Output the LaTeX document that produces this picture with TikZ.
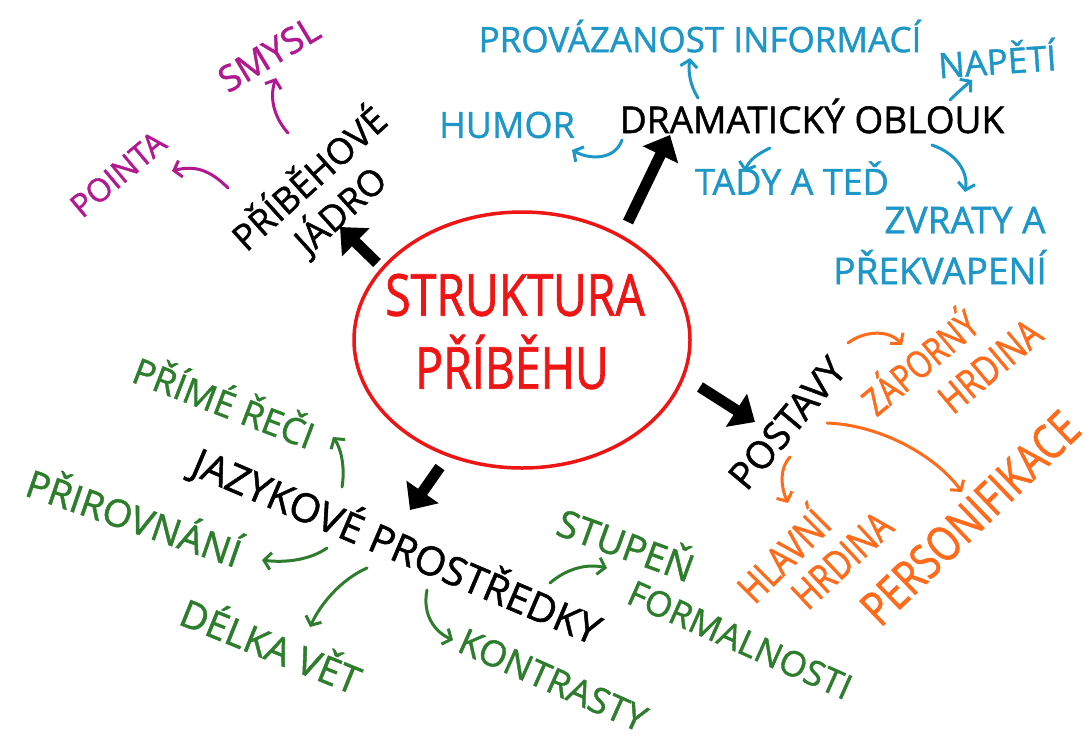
\documentclass[tikz,border=0pt]{standalone}
\usepackage{fontspec}
\newfontfamily\hand[FakeBold=1.2]{Open Sans}
\newfontfamily\handc[FakeStretch=0.8,FakeBold=1.2]{Open Sans}
\usetikzlibrary{arrows.meta,shapes.geometric}
\definecolor{mag}{HTML}{B2188F}
\definecolor{blu}{HTML}{1D96C8}
\definecolor{grn}{HTML}{2D7D2D}
\definecolor{org}{HTML}{FF6B1A}
\definecolor{rd}{HTML}{F01515}
\begin{document}
\begin{tikzpicture}[x=1pt,y=-1pt,
  txt/.style={font={\hand\fontsize{#1}{#1}\selectfont}, inner sep=0pt},
  txc/.style={font={\handc\fontsize{#1}{#1}\selectfont}, inner sep=0pt},
  arr/.style={line width=3pt, line cap=round, -{Straight Barb[length=7pt,width=17pt]}},
  bigarr/.style={line width=11pt, -{Triangle[length=22pt,width=38pt]}}
]
\useasboundingbox (0,0) rectangle (1089,740);
% centre
\node[draw=rd, line width=3.5pt, ellipse, minimum width=336pt, minimum height=256pt] (c) at (522,340) {};
\node[txc=58, text=rd] (s1) at (515,295) {STRUKTURA};
\node[txc=58, text=rd] (s2) at (512,362) {PŘÍBĚHU};

% příběhové jádro
\node[txt=36, rotate=42] (pj1) at (307,176) {PŘÍBĚHOVÉ};
\node[txt=36, rotate=42] (pj2) at (340,210) {JÁDRO};
\node[txt=36, rotate=31, text=mag] (smysl) at (269,54) {SMYSL};
\node[txt=32, rotate=40, text=mag] (pointa) at (118,174) {POINTA};

% dramatický oblouk
\node[txt=37] (do) at (812,116) {DRAMATICKÝ OBLOUK};
\node[txt=35, text=blu] (prov) at (700,36) {PROVÁZANOST INFORMACÍ};
\node[txt=35, text=blu, rotate=4] (nap) at (997,58) {NAPĚTÍ};
\node[txt=36, text=blu] (hum) at (507,125) {HUMOR};
\node[txt=36, text=blu] (tady) at (792,178) {TADY A TEĎ};
\node[txt=37, text=blu] (zv1) at (965,220) {ZVRATY A};
\node[txt=37, text=blu] (zv2) at (940,267) {PŘEKVAPENÍ};

% postavy
\node[txt=38, rotate=50] (post) at (787,423) {POSTAVY};
\node[txc=38, rotate=40, text=org] (zap1) at (918,360) {ZÁPORNÝ};
\node[txc=40, rotate=40, text=org] (zap2) at (990,366) {HRDINA};
\node[txc=40, rotate=45, text=org] (hl1) at (781,553) {HLAVNÍ};
\node[txc=40, rotate=43, text=org] (hl2) at (842,560) {HRDINA};
\node[txc=48, rotate=44, text=org] (pers) at (970,518) {PERSONIFIKACE};

% jazykové prostředky
\node[txt=40, rotate=-23] (jp) at (397,546) {JAZYKOVÉ PROSTŘEDKY};
\node[txt=36, rotate=-21, text=grn] (prime) at (225,400) {PŘÍMÉ ŘEČI};
\node[txt=38, rotate=-19, text=grn] (prir) at (135,515) {PŘIROVNÁNÍ};
\node[txt=38, rotate=-22, text=grn] (delka) at (272,643) {DÉLKA VĚT};
\node[txt=36, rotate=-24, text=grn] (kon) at (553,680) {KONTRASTY};
\node[txt=38, rotate=-20, text=grn] (stu1) at (627,542) {STUPEŇ};
\node[txt=35, rotate=-24, text=grn] (stu2) at (740,640) {FORMALNOSTI};

% big arrows
\coordinate (ba1) at (377,263); \coordinate (ba1t) at (340,227);
\coordinate (ba2) at (628,222); \coordinate (ba2t) at (670,135);
\coordinate (ba3) at (700,387); \coordinate (ba3t) at (755,422);
\coordinate (ba4) at (440,467); \coordinate (ba4t) at (410,510);
\draw[bigarr] (ba1) -- (ba1t);
\draw[bigarr] (ba2) -- (ba2t);
\draw[bigarr] (ba3) -- (ba3t);
\draw[bigarr] (ba4) -- (ba4t);

% thin arrows: start / tip coordinates
\coordinate (m1s) at (288,133); \coordinate (m1t) at (276,78);
\coordinate (m2s) at (228,188); \coordinate (m2t) at (172,171);
\coordinate (b1s) at (622,140); \coordinate (b1t) at (572,150);
\coordinate (b2s) at (698,98);  \coordinate (b2t) at (690,58);
\coordinate (b3s) at (950,100); \coordinate (b3t) at (972,80);
\coordinate (b4s) at (770,148); \coordinate (b4t) at (745,172);
\coordinate (b5s) at (932,145); \coordinate (b5t) at (965,192);
\coordinate (o1s) at (848,343); \coordinate (o1t) at (902,345);
\coordinate (o2s) at (790,457); \coordinate (o2t) at (788,503);
\coordinate (o3s) at (827,423); \coordinate (o3t) at (962,492);
\coordinate (g1s) at (342,487); \coordinate (g1t) at (333,437);
\coordinate (g2s) at (327,548); \coordinate (g2t) at (262,560);
\coordinate (g3s) at (367,568); \coordinate (g3t) at (310,627);
\coordinate (g4s) at (427,590); \coordinate (g4t) at (453,640);
\coordinate (g5s) at (550,583); \coordinate (g5t) at (607,568);

\draw[arr, mag] (m1s) .. controls (272,115) and (270,95) .. (m1t);
\draw[arr, mag] (m2s) .. controls (210,170) and (195,165) .. (m2t);
\draw[arr, blu] (b1s) .. controls (615,160) and (590,160) .. (b1t);
\draw[arr, blu] (b2s) .. controls (690,85) and (688,72) .. (b2t);
\draw[arr, blu] (b3s) .. controls (958,92) and (965,86) .. (b3t);
\draw[arr, blu] (b4s) .. controls (755,155) and (748,162) .. (b4t);
\draw[arr, blu] (b5s) .. controls (960,155) and (968,175) .. (b5t);
\draw[arr, org] (o1s) .. controls (865,330) and (890,330) .. (o1t);
\draw[arr, org] (o2s) .. controls (778,470) and (782,490) .. (o2t);
\draw[arr, org] (o3s) .. controls (880,425) and (935,455) .. (o3t);
\draw[arr, grn] (g1s) .. controls (345,470) and (342,450) .. (g1t);
\draw[arr, grn] (g2s) .. controls (310,560) and (285,563) .. (g2t);
\draw[arr, grn] (g3s) .. controls (340,580) and (320,605) .. (g3t);
\draw[arr, grn] (g4s) .. controls (422,615) and (435,632) .. (g4t);
\draw[arr, grn] (g5s) .. controls (565,570) and (585,563) .. (g5t);
\end{tikzpicture}
\end{document}
